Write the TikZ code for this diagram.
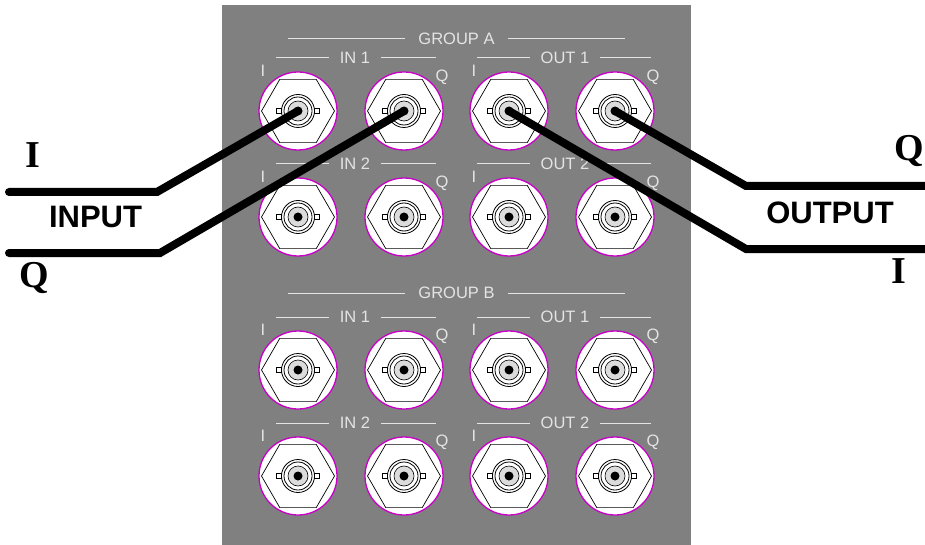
\documentclass[tikz,border=0pt]{standalone}
\usepackage{fontspec}
\setmainfont{Liberation Sans}
\newfontfamily\bigserif{Liberation Serif}
\definecolor{panelgray}{HTML}{808080}
\definecolor{labelgray}{HTML}{E4E4E4}
\definecolor{rimpink}{HTML}{C800C8}
\definecolor{pinlight}{HTML}{DCDCDC}
\begin{document}
\begin{tikzpicture}[x=1pt, y=-1pt,
    bnc/.pic={
      \filldraw[fill=white, draw=rimpink, line width=1.3pt] (0,0) circle (39pt);
      \draw[line width=0.7pt] (0:36.5pt) -- (60:36.5pt) -- (120:36.5pt) -- (180:36.5pt) -- (240:36.5pt) -- (300:36.5pt) -- cycle;
      \filldraw[fill=white, line width=0.6pt] (-21.5pt,-2.3pt) rectangle (-16.5pt,2.3pt);
      \filldraw[fill=white, line width=0.6pt] (16.5pt,-2.3pt) rectangle (21.5pt,2.3pt);
      \draw[line width=0.8pt] (0,0) circle (16.5pt) circle (14pt);
      \filldraw[fill=pinlight, line width=0.6pt] (0,0) circle (10pt);
      \fill (0,0) circle (4.5pt);
    },
    jacklabel/.style={text=labelgray, font=\fontsize{16.5}{18}\selectfont},
    rowlabel/.style={jacklabel, fill=panelgray, inner xsep=11pt, inner ysep=1pt},
    rule/.style={labelgray, line width=1pt},
    cable/.style={line width=8pt, line cap=round},
    bigsans/.style={font=\fontsize{31}{36}\selectfont\bfseries, anchor=base},
    bigletter/.style={font=\fontsize{38}{44}\selectfont\bigserif\bfseries, anchor=base}]
  \useasboundingbox (0,0) rectangle (925,545);
  \fill[panelgray] (222,5) rectangle (691,545);

  \foreach \grp/\ytop/\yrow in {A/39/111, B/293/370} {
    \draw[rule] (288,\ytop) -- (625,\ytop);
    \node[rowlabel, inner xsep=13pt] (group\grp) at (456.5,\ytop) {GROUP \grp};
    \foreach \row/\dy in {1/0, 2/106} {
      \foreach \jack/\x in {inI/298, inQ/404, outI/509, outQ/615}
        \path (\x,\yrow+\dy) coordinate (\grp\row-\jack) pic {bnc};
      \draw[rule] (276,\yrow+\dy-53) -- (436,\yrow+\dy-53);
      \node[rowlabel] (in\row\grp) at (355,\yrow+\dy-53) {IN \row};
      \draw[rule] (477,\yrow+\dy-53) -- (651,\yrow+\dy-53);
      \node[rowlabel] (out\row\grp) at (565,\yrow+\dy-53) {OUT \row};
      \foreach \x in {298,509}
        \node[jacklabel] (\grp\row-I\x) at (\x-35,\yrow+\dy-40) {I};
      \foreach \x in {404,615}
        \node[jacklabel] (\grp\row-Q\x) at (\x+38,\yrow+\dy-34) {Q};
    }
  }

  \coordinate (inIfree) at (9,192);
  \coordinate (inIbend) at (157,192);
  \coordinate (inQfree) at (9,253);
  \coordinate (inQbend) at (160,253);
  \coordinate (outQbend) at (746,186);
  \coordinate (outQfree) at (932,186);
  \coordinate (outIbend) at (746,249);
  \coordinate (outIfree) at (932,249);
  \draw[cable] (inIfree) -- (inIbend) -- (A1-inI);
  \draw[cable] (inQfree) -- (inQbend) -- (A1-inQ);
  \draw[cable] (A1-outQ) -- (outQbend) -- (outQfree);
  \draw[cable] (A1-outI) -- (outIbend) -- (outIfree);

  \node[bigletter] (inIlabel) at (33,168) {I};
  \node[bigletter] (inQlabel) at (34,287) {Q};
  \node[bigsans] (inputlabel) at (95.5,228) {INPUT};
  \node[bigsans] (outputlabel) at (830,224) {OUTPUT};
  \node[bigletter] (outQlabel) at (909,161) {Q};
  \node[bigletter] (outIlabel) at (899,283) {I};
\end{tikzpicture}
\end{document}
